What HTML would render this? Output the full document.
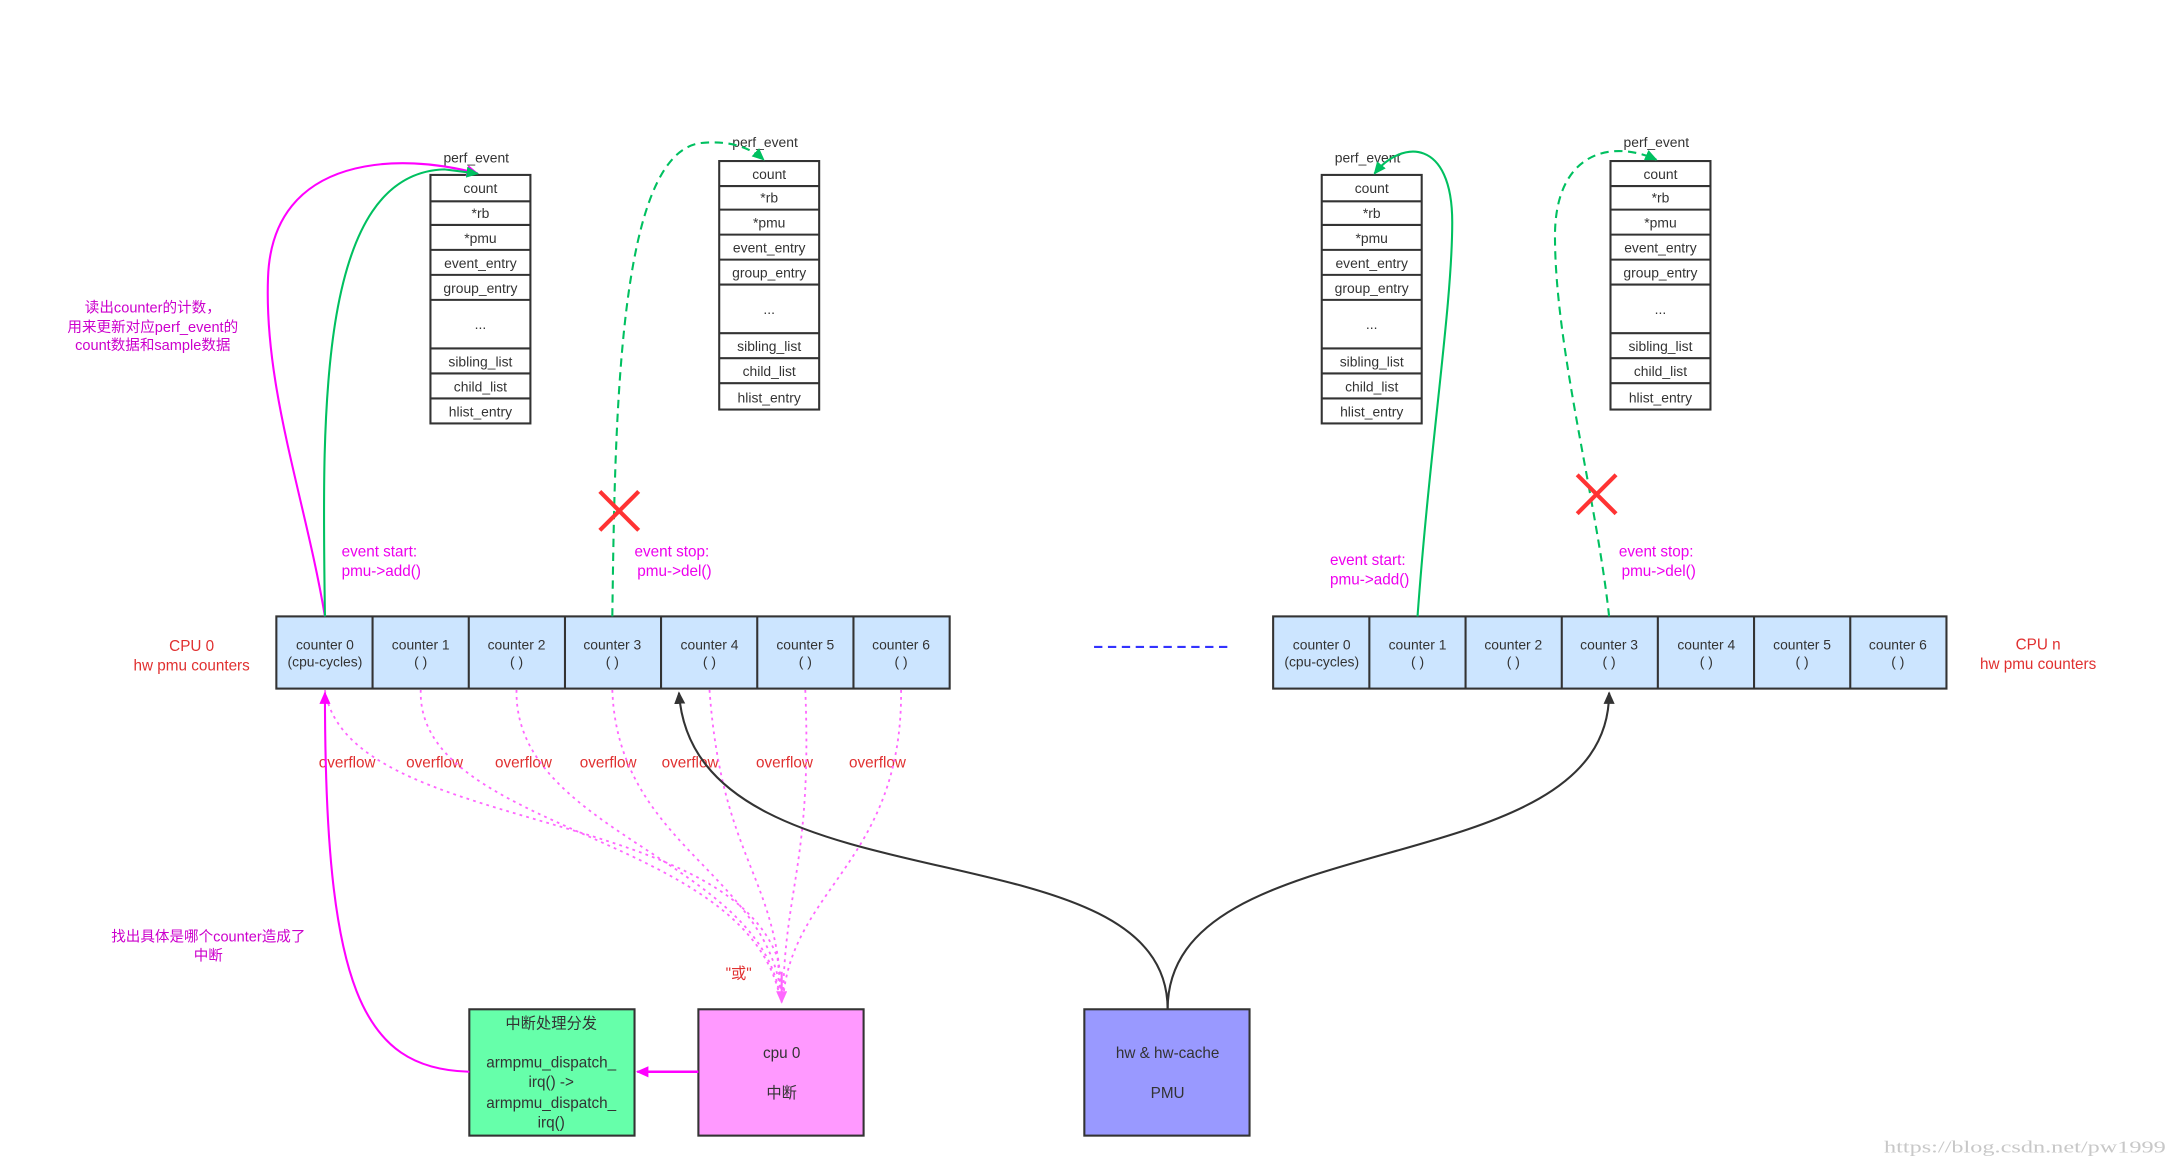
<!DOCTYPE html>
<html><head><meta charset="utf-8"><style>
html,body{margin:0;padding:0;background:#fff;}
svg{display:block;}
text{font-family:"Liberation Sans","Noto Sans CJK SC",sans-serif;}
</style></head><body>
<svg width="2177" height="1167" viewBox="0 0 1568 840.6" xmlns="http://www.w3.org/2000/svg">
<defs>
<marker id="am" markerWidth="10" markerHeight="10" refX="8" refY="4" orient="auto" markerUnits="userSpaceOnUse"><path d="M0,0 L9,4 L0,8 z" fill="#ff00ff"/></marker>
<marker id="ag" markerWidth="10" markerHeight="10" refX="8" refY="4" orient="auto" markerUnits="userSpaceOnUse"><path d="M0,0 L9,4 L0,8 z" fill="#00c060"/></marker>
<marker id="ak" markerWidth="10" markerHeight="10" refX="8" refY="4" orient="auto" markerUnits="userSpaceOnUse"><path d="M0,0 L9,4 L0,8 z" fill="#333"/></marker>
<marker id="ap" markerWidth="10" markerHeight="10" refX="8" refY="4" orient="auto" markerUnits="userSpaceOnUse"><path d="M0,0 L9,4 L0,8 z" fill="#ff66ff"/></marker>
</defs>

<g stroke="#333" stroke-width="1.5" fill="#fff">
<rect x="310" y="126" width="72" height="179"/>
<line x1="310" y1="145" x2="382" y2="145"/><line x1="310" y1="162" x2="382" y2="162"/><line x1="310" y1="180" x2="382" y2="180"/><line x1="310" y1="198" x2="382" y2="198"/><line x1="310" y1="216" x2="382" y2="216"/><line x1="310" y1="251" x2="382" y2="251"/><line x1="310" y1="269" x2="382" y2="269"/><line x1="310" y1="287" x2="382" y2="287"/>
<rect x="952" y="126" width="72" height="179"/>
<line x1="952" y1="145" x2="1024" y2="145"/><line x1="952" y1="162" x2="1024" y2="162"/><line x1="952" y1="180" x2="1024" y2="180"/><line x1="952" y1="198" x2="1024" y2="198"/><line x1="952" y1="216" x2="1024" y2="216"/><line x1="952" y1="251" x2="1024" y2="251"/><line x1="952" y1="269" x2="1024" y2="269"/><line x1="952" y1="287" x2="1024" y2="287"/>
<rect x="518" y="116" width="72" height="179"/>
<line x1="518" y1="134" x2="590" y2="134"/><line x1="518" y1="151" x2="590" y2="151"/><line x1="518" y1="169" x2="590" y2="169"/><line x1="518" y1="187" x2="590" y2="187"/><line x1="518" y1="205" x2="590" y2="205"/><line x1="518" y1="240" x2="590" y2="240"/><line x1="518" y1="258" x2="590" y2="258"/><line x1="518" y1="276" x2="590" y2="276"/>
<rect x="1160" y="116" width="72" height="179"/>
<line x1="1160" y1="134" x2="1232" y2="134"/><line x1="1160" y1="151" x2="1232" y2="151"/><line x1="1160" y1="169" x2="1232" y2="169"/><line x1="1160" y1="187" x2="1232" y2="187"/><line x1="1160" y1="205" x2="1232" y2="205"/><line x1="1160" y1="240" x2="1232" y2="240"/><line x1="1160" y1="258" x2="1232" y2="258"/><line x1="1160" y1="276" x2="1232" y2="276"/>
</g>
<g font-size="10" fill="#333" text-anchor="middle">
<text x="343" y="117">perf_event</text>
<text x="346" y="139">count</text><text x="346" y="157">*rb</text><text x="346" y="175">*pmu</text><text x="346" y="193">event_entry</text><text x="346" y="211">group_entry</text><text x="346" y="237">...</text><text x="346" y="264">sibling_list</text><text x="346" y="282">child_list</text><text x="346" y="300">hlist_entry</text>
<text x="985" y="117">perf_event</text>
<text x="988" y="139">count</text><text x="988" y="157">*rb</text><text x="988" y="175">*pmu</text><text x="988" y="193">event_entry</text><text x="988" y="211">group_entry</text><text x="988" y="237">...</text><text x="988" y="264">sibling_list</text><text x="988" y="282">child_list</text><text x="988" y="300">hlist_entry</text>
<text x="551" y="106">perf_event</text>
<text x="554" y="129">count</text><text x="554" y="146">*rb</text><text x="554" y="164">*pmu</text><text x="554" y="182">event_entry</text><text x="554" y="200">group_entry</text><text x="554" y="226">...</text><text x="554" y="253">sibling_list</text><text x="554" y="271">child_list</text><text x="554" y="290">hlist_entry</text>
<text x="1193" y="106">perf_event</text>
<text x="1196" y="129">count</text><text x="1196" y="146">*rb</text><text x="1196" y="164">*pmu</text><text x="1196" y="182">event_entry</text><text x="1196" y="200">group_entry</text><text x="1196" y="226">...</text><text x="1196" y="253">sibling_list</text><text x="1196" y="271">child_list</text><text x="1196" y="290">hlist_entry</text>
</g>

<g stroke="#333" stroke-width="1.5" fill="#cce5ff">
<rect x="199" y="444" width="485" height="52"/>
<rect x="917" y="444" width="485" height="52"/>
</g>
<g stroke="#333" stroke-width="1.5">
<line x1="268.3" y1="444" x2="268.3" y2="496"/><line x1="337.6" y1="444" x2="337.6" y2="496"/><line x1="406.9" y1="444" x2="406.9" y2="496"/><line x1="476.1" y1="444" x2="476.1" y2="496"/><line x1="545.4" y1="444" x2="545.4" y2="496"/><line x1="614.7" y1="444" x2="614.7" y2="496"/>
<line x1="986.3" y1="444" x2="986.3" y2="496"/><line x1="1055.6" y1="444" x2="1055.6" y2="496"/><line x1="1124.9" y1="444" x2="1124.9" y2="496"/><line x1="1194.1" y1="444" x2="1194.1" y2="496"/><line x1="1263.4" y1="444" x2="1263.4" y2="496"/><line x1="1332.7" y1="444" x2="1332.7" y2="496"/>
</g>
<g font-size="10" fill="#333" text-anchor="middle">
<text x="234" y="468">counter 0</text><text x="234" y="480">(cpu-cycles)</text>
<text x="303" y="468">counter 1</text><text x="303" y="480">( )</text>
<text x="372" y="468">counter 2</text><text x="372" y="480">( )</text>
<text x="441" y="468">counter 3</text><text x="441" y="480">( )</text>
<text x="511" y="468">counter 4</text><text x="511" y="480">( )</text>
<text x="580" y="468">counter 5</text><text x="580" y="480">( )</text>
<text x="649" y="468">counter 6</text><text x="649" y="480">( )</text>
<text x="952" y="468">counter 0</text><text x="952" y="480">(cpu-cycles)</text>
<text x="1021" y="468">counter 1</text><text x="1021" y="480">( )</text>
<text x="1090" y="468">counter 2</text><text x="1090" y="480">( )</text>
<text x="1159" y="468">counter 3</text><text x="1159" y="480">( )</text>
<text x="1229" y="468">counter 4</text><text x="1229" y="480">( )</text>
<text x="1298" y="468">counter 5</text><text x="1298" y="480">( )</text>
<text x="1367" y="468">counter 6</text><text x="1367" y="480">( )</text>
</g>
<g font-size="11" fill="#e03030" text-anchor="middle">
<text x="138" y="469">CPU 0</text><text x="138" y="483">hw pmu counters</text>
<text x="1468" y="468">CPU n</text><text x="1468" y="482">hw pmu counters</text>
<text x="250" y="553">overflow</text><text x="313" y="553">overflow</text><text x="377" y="553">overflow</text><text x="438" y="553">overflow</text><text x="497" y="553">overflow</text><text x="565" y="553">overflow</text><text x="632" y="553">overflow</text>
<text x="532" y="705">"或"</text>
</g>
<line x1="788" y1="466" x2="886" y2="466" stroke="#3333ff" stroke-width="1.5" stroke-dasharray="6,4"/>

<rect x="338" y="727" width="119" height="91" fill="#66ffaa" stroke="#333" stroke-width="1.5"/>
<rect x="503" y="727" width="119" height="91" fill="#ff99ff" stroke="#333" stroke-width="1.5"/>
<rect x="781" y="727" width="119" height="91" fill="#9999ff" stroke="#333" stroke-width="1.5"/>
<g font-size="11" fill="#333" text-anchor="middle">
<text x="397" y="741">中断处理分发</text>
<text x="397" y="769">armpmu_dispatch_</text><text x="397" y="783">irq() -&gt;</text><text x="397" y="798">armpmu_dispatch_</text><text x="397" y="812">irq()</text>
<text x="563" y="762">cpu 0</text><text x="563" y="791">中断</text>
<text x="841" y="762">hw &amp; hw-cache</text><text x="841" y="791">PMU</text>
</g>

<g font-size="10.5" fill="#cc00cc" text-anchor="middle">
<text x="110" y="225">读出counter的计数，</text><text x="110" y="239">用来更新对应perf_event的</text><text x="110" y="252">count数据和sample数据</text>
<text x="150" y="678">找出具体是哪个counter造成了</text><text x="150" y="692">中断</text>
</g>
<g font-size="11" fill="#ee00ee">
<text x="246" y="401">event start:</text><text x="246" y="415">pmu-&gt;add()</text>
<text x="457" y="401">event stop:</text><text x="459" y="415">pmu-&gt;del()</text>
<text x="958" y="407">event start:</text><text x="958" y="421">pmu-&gt;add()</text>
<text x="1166" y="401">event stop:</text><text x="1168" y="415">pmu-&gt;del()</text>
</g>

<path d="M234,444 C220,360 190,280 193,200 C196,110 290,110 344,125" fill="none" stroke="#ff00ff" stroke-width="1.5" marker-end="url(#am)"/>
<path d="M234,444 C232,300 228,125 320,122 L344,125" fill="none" stroke="#00c060" stroke-width="1.5" marker-end="url(#ag)"/>
<path d="M441,444 C443,300 445,110 505,103 C525,101 540,106 550,115" fill="none" stroke="#00c060" stroke-width="1.5" stroke-dasharray="6,4" marker-end="url(#ag)"/>
<path d="M1021,444 C1030,320 1046,220 1046,160 C1046,100 1010,100 990,125" fill="none" stroke="#00c060" stroke-width="1.5" marker-end="url(#ag)"/>
<path d="M1159,444 C1150,360 1120,250 1120,170 C1120,110 1160,100 1193,115" fill="none" stroke="#00c060" stroke-width="1.5" stroke-dasharray="6,4" marker-end="url(#ag)"/>
<g stroke="#ff3333" stroke-width="3">
<line x1="432" y1="354" x2="460" y2="382"/><line x1="460" y1="354" x2="432" y2="382"/>
<line x1="1136" y1="342" x2="1164" y2="370"/><line x1="1164" y1="342" x2="1136" y2="370"/>
</g>

<g fill="none" stroke="#ff66ff" stroke-width="1.3" stroke-dasharray="2,3">
<path d="M234,497 C250,600 520,580 560,690 L563,720"/>
<path d="M303,497 C300,600 540,600 562,720"/>
<path d="M372,497 C370,600 550,620 562,720"/>
<path d="M441,497 C445,610 555,630 563,720"/>
<path d="M511,497 C520,620 560,630 563,720"/>
<path d="M580,497 C585,620 565,640 564,720"/>
<path d="M649,497 C650,620 570,640 564,720"/>
</g>
<path d="M563,700 L563,722" stroke="#ff66ff" stroke-width="1.5" marker-end="url(#ap)"/>

<path d="M841,727 C841,590 500,660 489,499" fill="none" stroke="#333" stroke-width="1.5" marker-end="url(#ak)"/>
<path d="M841,727 C841,590 1159,640 1159,499" fill="none" stroke="#333" stroke-width="1.5" marker-end="url(#ak)"/>

<path d="M338,772 C260,770 234,710 234,499" fill="none" stroke="#ff00ff" stroke-width="1.5" marker-end="url(#am)"/>
<path d="M503,772 L459,772" fill="none" stroke="#ff00ff" stroke-width="1.8" marker-end="url(#am)"/>

<text x="1357" y="830" font-size="12.5" fill="#c8c8c8" textLength="203" lengthAdjust="spacingAndGlyphs" style="font-family:'Liberation Serif',serif">https://blog.csdn.net/pw1999</text>
</svg>
</body></html>
